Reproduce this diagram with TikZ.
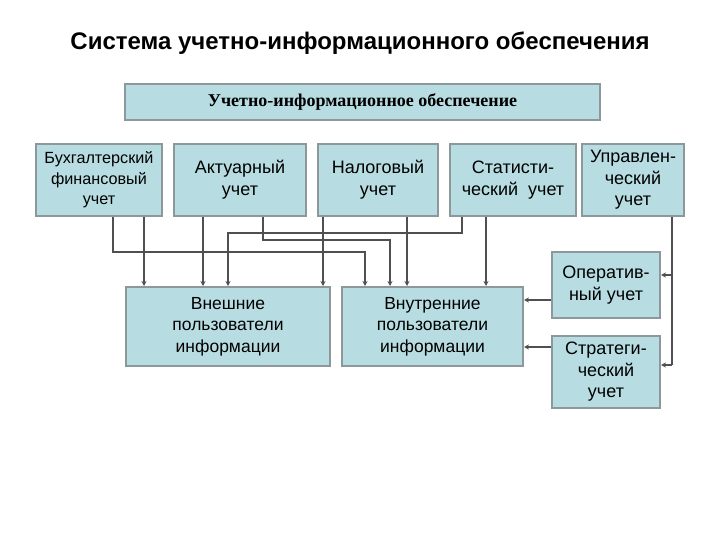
\documentclass[tikz,border=0pt]{standalone}
\usepackage{fontspec}
\setmainfont{Liberation Sans}
\newfontfamily\serifbold{Liberation Serif}
\usetikzlibrary{arrows.meta}
\definecolor{boxfill}{RGB}{183,221,226}
\definecolor{boxline}{RGB}{140,152,154}
\definecolor{wire}{RGB}{80,80,80}

\begin{document}
\begin{tikzpicture}[x=1pt, y=-1pt, >={Stealth[length=5pt,width=5pt]},
  main/.style = {draw=boxline, fill=boxfill, line width=2pt, align=center, inner sep=0pt, font=\fontsize{18}{22}\selectfont},
  conn/.style = {draw=wire, line width=1.3pt}]
\useasboundingbox (0,0) rectangle (720,540);
\node[font=\bfseries\fontsize{24}{28}\selectfont] (0) at (360,43) {Система учетно-информационного обеспечения};
\node[main, minimum width=475, minimum height=36, font=\serifbold\bfseries\fontsize{18}{20}\selectfont] (1) at (362.5,102) {Учетно-информационное обеспечение};
\node[main, minimum width=126, minimum height=72, font=\fontsize{16.2}{20.5}\selectfont] (2) at (99,180) {Бухгалтерский\\финансовый\\учет};
\node[main, minimum width=132, minimum height=72] (3) at (240,180) {Актуарный\\учет};
\node[main, minimum width=120, minimum height=72] (4) at (378,180) {Налоговый\\учет};
\node[main, minimum width=126, minimum height=72] (5) at (513,180) {Статисти-\\ческий~ учет};
\node[main, minimum width=102, minimum height=72, font=\fontsize{18}{21.5}\selectfont] (6) at (633,180) {Управлен-\\ческий\\учет};
\node[main, minimum width=204, minimum height=79, font=\fontsize{17.5}{21.5}\selectfont] (7) at (228,326.5) {Внешние\\пользователи\\информации};
\node[main, minimum width=181, minimum height=79, font=\fontsize{17.5}{21.5}\selectfont] (8) at (432.5,326.5) {Внутренние\\пользователи\\информации};
\node[main, minimum width=108, minimum height=66] (9) at (606,285) {Оператив-\\ный учет};
\node[main, minimum width=108, minimum height=72, font=\fontsize{18}{21.5}\selectfont] (10) at (606,372) {Стратеги-\\ческий\\учет};
\draw[conn,->] (144,0 |- 2.south) -- (144,0 |- 7.north);
\draw[conn,->] (113,0 |- 2.south) -- (113,252) -| (365,0 |- 8.north);
\draw[conn,->] (203,0 |- 3.south) -- (203,0 |- 7.north);
\draw[conn,->] (263,0 |- 3.south) -- (263,240) -| (390,0 |- 8.north);
\draw[conn,->] (323,0 |- 4.south) -- (323,0 |- 7.north);
\draw[conn,->] (407,0 |- 4.south) -- (407,0 |- 8.north);
\draw[conn,->] (462,0 |- 5.south) -- (462,233) -| (228,0 |- 7.north);
\draw[conn,->] (486,0 |- 5.south) -- (486,0 |- 8.north);
\draw[conn] (672,0 |- 6.south) -- (672,365);
\draw[conn,->] (672,275) -- (9.east |- 0,275);
\draw[conn,->] (672,365) -- (10.east |- 0,365);
\draw[conn,->] (9.west |- 0,300) -- (8.east |- 0,300);
\draw[conn,->] (10.west |- 0,347) -- (8.east |- 0,347);
\end{tikzpicture}
\end{document}
